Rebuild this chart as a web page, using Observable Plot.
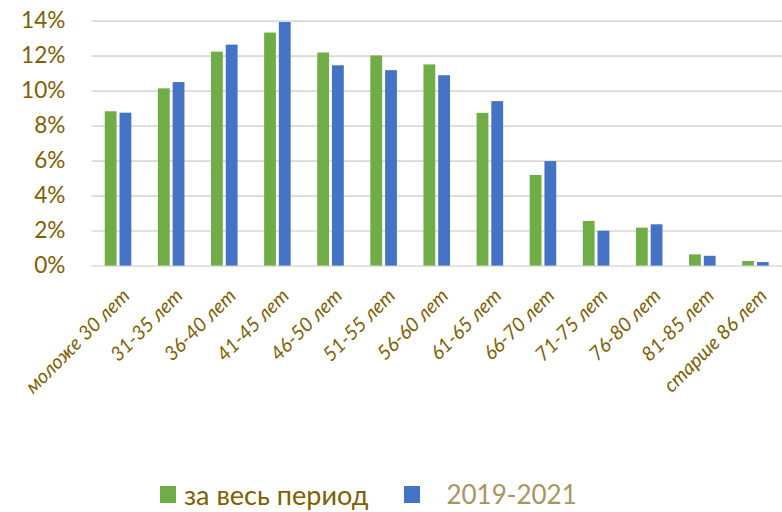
<!DOCTYPE html>
<html><head><meta charset="utf-8">
<script src="https://cdn.jsdelivr.net/npm/d3@7"></script>
<script src="https://cdn.jsdelivr.net/npm/@observablehq/plot@0.6"></script>
<style>
body{margin:0;background:#fff;}
#wrap{width:782px;height:512px;overflow:hidden;font-family:Lato,sans-serif;}
#wrap svg{display:block;}
[aria-label="x-axis tick label"] text{font-style:italic;}
.legend{display:flex;align-items:center;height:52px;padding-left:160px;padding-top:16px;}
.legend .sw{width:16px;height:17px;display:inline-block;margin-right:8px;}
.legend .item{display:flex;align-items:center;margin-right:36px;}
</style></head><body><div id="wrap"></div>
<script>
const categories = ["моложе 30 лет","31-35 лет","36-40 лет","41-45 лет","46-50 лет","51-55 лет","56-60 лет","61-65 лет","66-70 лет","71-75 лет","76-80 лет","81-85 лет","старше 86 лет"];
const allPeriod = [8.82,10.13,12.23,13.32,12.18,12.01,11.5,8.73,5.18,2.55,2.17,0.64,0.26];
const recent   = [8.74,10.49,12.63,13.92,11.45,11.17,10.88,9.40,5.97,1.99,2.36,0.56,0.20];
const yTicks = [0,2,4,6,8,10,12,14];
const seriesNames = ["за весь период","2019-2021"];
const seriesColors = ["#70AD47","#4472C4"];
const legendTextColors = ["#7F6000","#A8955F"];
const legendFontSizes = [27,26];

const rowsA = categories.map((c,i)=>({cat:c, value:allPeriod[i]}));
const rowsB = categories.map((c,i)=>({cat:c, value:recent[i]}));

const chart = Plot.plot({
  width: 795,
  height: 460,
  marginLeft: 93,
  marginRight: 0,
  marginTop: 21,
  marginBottom: 190,
  style: {color:"#7F6000", fontFamily:"Lato, sans-serif", background:"#fff"},
  x: {domain: categories, paddingInner: 0.7778, paddingOuter: 0.3889, label: null},
  y: {domain: [0,14], label: null},
  marks: [
    Plot.ruleY(yTicks, {stroke:"#d9d9d9", strokeWidth:1.6}),
    Plot.barY(rowsA, {x:"cat", y:"value", fill:seriesColors[0], dx:-7.5}),
    Plot.barY(rowsB, {x:"cat", y:"value", fill:seriesColors[1], dx:7.5}),
    Plot.axisY({ticks: yTicks, tickFormat: d => d + "%", tickSize: 0, tickPadding: 27, fontSize: 23, label: null}),
    Plot.axisX({tickRotate: -45, tickSize: 0, tickPadding: 27, fontSize: 20, dx: 8, label: null})
  ]
});
const wrap = document.getElementById("wrap");
wrap.appendChild(chart);
const legend = document.createElement("div");
legend.className = "legend";
seriesNames.forEach((n,i)=>{
  const it = document.createElement("span"); it.className="item";
  const sw = document.createElement("span"); sw.className="sw"; sw.style.background = seriesColors[i];
  const tx = document.createElement("span"); tx.textContent = n; tx.style.color = legendTextColors[i];
  tx.style.fontSize = legendFontSizes[i] + "px";
  if (i===1) sw.style.marginRight = "26px";
  it.appendChild(sw); it.appendChild(tx); legend.appendChild(it);
});
wrap.appendChild(legend);
</script></body></html>
